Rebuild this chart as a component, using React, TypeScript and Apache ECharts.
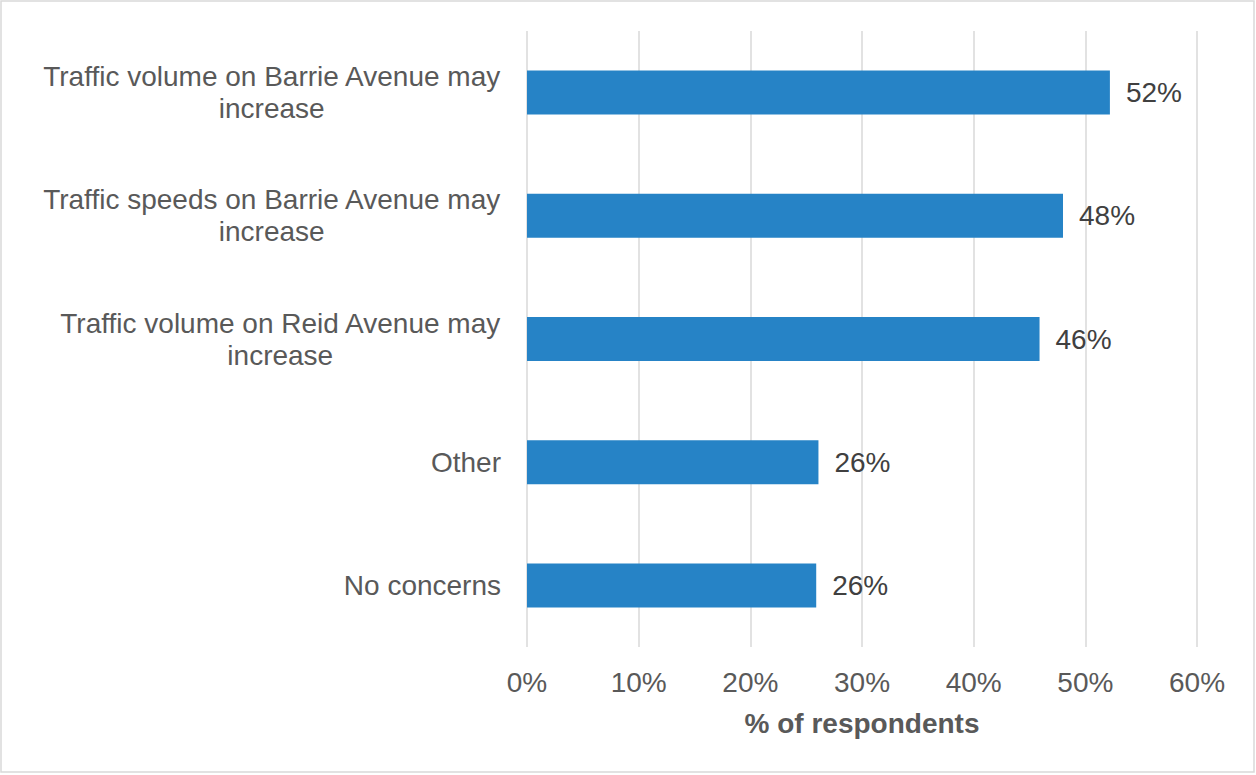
import React, { useEffect, useRef } from "react";
import * as echarts from "echarts";

const categories = [
  "Traffic volume on Barrie Avenue may increase",
  "Traffic speeds on Barrie Avenue may increase",
  "Traffic volume on Reid Avenue may increase",
  "Other",
  "No concerns",
];
const values = [52.2, 48.0, 45.9, 26.1, 25.9];
const xTicks = [0, 10, 20, 30, 40, 50, 60];
const axisTitle = "% of respondents";

const FONT = "'Liberation Sans', Arial, sans-serif";
const FS = 28;

function wrap(text: string, maxW: number): string {
  const c = document.createElement("canvas").getContext("2d");
  if (!c) return text;
  c.font = `${FS}px ${FONT}`;
  const words = text.split(" ");
  const lines: string[] = [];
  let cur = "";
  for (const w of words) {
    const t = cur ? cur + " " + w : w;
    if (cur && c.measureText(t).width > maxW) {
      lines.push(cur);
      cur = w;
    } else cur = t;
  }
  if (cur) lines.push(cur);
  return lines.join("\n");
}

export default function App() {
  const ref = useRef<HTMLDivElement>(null);
  useEffect(() => {
    if (!ref.current) return;
    const chart = echarts.init(ref.current, undefined, { renderer: "svg" });
    const cats = [...categories].reverse();
    const vals = [...values].reverse();
    chart.setOption({
      animation: false,
      backgroundColor: "#ffffff",
      textStyle: { fontFamily: FONT },
      graphic: [
        {
          type: "rect",
          shape: { x: 1, y: 1, width: 1253, height: 771 },
          style: { fill: "none", stroke: "#D9D9D9", lineWidth: 1.5 },
          silent: true,
        },
      ],
      grid: { left: 527, right: 59, top: 31, bottom: 128, containLabel: false },
      xAxis: {
        type: "value",
        min: xTicks[0],
        max: xTicks[xTicks.length - 1],
        interval: 10,
        axisLine: { show: false },
        axisTick: { show: false },
        splitLine: { show: true, lineStyle: { color: "#D9D9D9", width: 1.5 } },
        axisLabel: {
          formatter: (v: number) => `${v}%`,
          color: "#595959",
          fontSize: FS,
          fontFamily: FONT,
          margin: 21,
        },
        name: axisTitle,
        nameLocation: "middle",
        nameGap: 62,
        nameTextStyle: {
          color: "#595959",
          fontSize: FS,
          fontWeight: "bold",
          fontFamily: FONT,
        },
      },
      yAxis: {
        type: "category",
        data: cats,
        axisLine: { show: false },
        axisTick: { show: false },
        axisLabel: {
          color: "#595959",
          margin: 26,
          formatter: (v: string) =>
            wrap(v, 490)
              .split("\n")
              .map((l) => `{c|${l}}`)
              .join("\n"),
          rich: {
            c: {
              align: "center",
              fontSize: FS,
              lineHeight: 32,
              color: "#595959",
              fontFamily: FONT,
            },
          },
        },
      },
      series: [
        {
          type: "bar",
          data: vals,
          barWidth: 44,
          itemStyle: { color: "#2683C6" },
          label: {
            show: true,
            position: "right",
            distance: 16,
            formatter: (p: any) => `${Math.round(p.value)}%`,
            color: "#404040",
            fontSize: FS,
            fontFamily: FONT,
          },
        },
      ],
    });
    return () => chart.dispose();
  }, []);
  return (
    <div
      ref={ref}
      style={{ position: "fixed", left: 0, top: 0, width: 1256, height: 775 }}
    />
  );
}
